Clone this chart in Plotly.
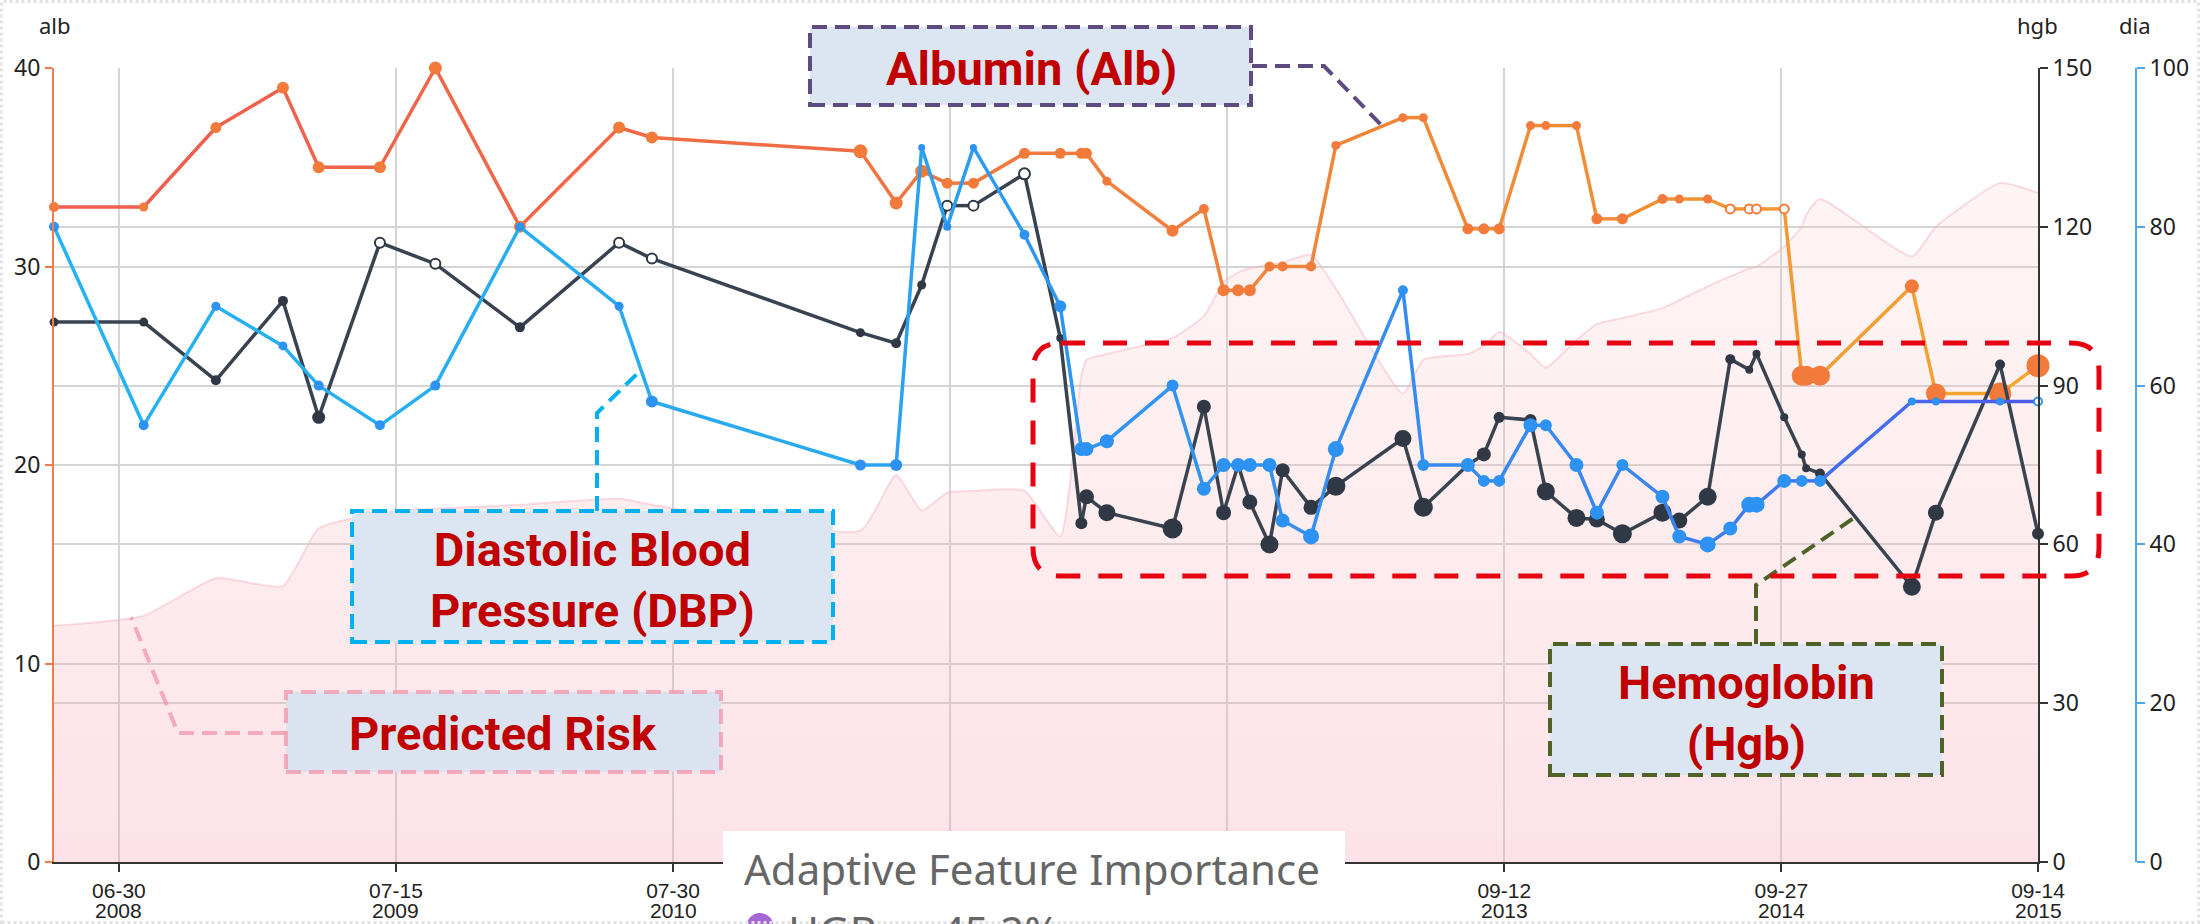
import plotly.graph_objects as go
import pandas as pd

# ---------------- data ----------------
visit_dates = [
    '2008-04-02', '2008-08-03', '2008-11-10', '2009-02-10', '2009-03-31', '2009-06-23', '2009-09-07', '2010-01-01', '2010-05-17', '2010-07-01',
    '2011-04-13', '2011-06-01', '2011-07-06', '2011-08-10', '2011-09-15', '2011-11-24', '2012-01-12', '2012-02-10', '2012-02-17', '2012-03-16',
    '2012-06-14', '2012-07-27', '2012-08-23', '2012-09-12', '2012-09-28', '2012-10-25', '2012-11-12', '2012-12-21', '2013-01-24', '2013-04-26',
    '2013-05-24', '2013-07-24', '2013-08-15', '2013-09-05', '2013-10-18', '2013-11-08', '2013-12-20', '2014-01-17', '2014-02-21', '2014-04-17',
    '2014-05-10', '2014-06-18', '2014-07-19', '2014-08-14', '2014-08-24', '2014-10-01', '2014-10-25', '2014-10-31', '2014-11-19', '2015-03-25',
    '2015-04-27', '2015-07-24', '2015-09-14']

albumin = [33, 33, 37, 39, 35, 35, 40, 32, 37, 36.5,
           35.8, 33.2, 34.8, 34.2, 34.2, 35.7, 35.7, 35.7, 35.7, 34.3,
           31.8, 32.9, 28.8, 28.8, 28.8, 30.0, 30.0, 30.0, 36.1, 37.5,
           37.5, 31.9, 31.9, 31.9, 37.1, 37.1, 37.1, 32.4, 32.4, 33.4,
           33.4, 33.4, 32.9, 32.9, 32.9, 32.9, 24.5, 24.5, 24.5, 29.0,
           23.6, 23.6, 25.0]

hemoglobin = [102, 102, 91, 106, 84, 117, 113, 101, 117, 114,
              100, 98, 109, 124, 124, 130, 99, 64, 69, 66,
              63, 86, 66, 75, 68, 60, 74, 67, 71, 80,
              67, 75, 77, 84, 83.5, 70, 65, 64.7, 62, 66,
              64.5, 69, 95, 93, 96, 84, 77, 74.4, 73.4, 52,
              66, 94, 62]

diastolic = [80, 55, 70, 65, 60, 55, 60, 80, 70, 58,
             50, 50, 90, 80, 90, 79, 70, 52, 52, 53,
             60, 47, 50, 50, 50, 50, 43, 41, 52, 72,
             50, 50, 48, 48, 55, 55, 50, 44, 50, 46,
             41, 40, 42, 45, 45, 48, 48, None, 48, 58,
             58, 58, 58]

predicted_risk = [11.9, 12.4, 14.3, 13.9, 16.8, 17.6, 17.8, 18.0, 18.3, 18.0,
                  16.7, 19.5, 17.7, 18.6, 18.7, 18.7, 16.4, 24.5, 25.3, 25.6,
                  26.4, 27.5, 29.2, 29.7, 29.9, 30.1, 30.2, 30.6, 28.9, 23.6,
                  25.3, 25.6, 26.0, 26.7, 25.6, 24.9, 26.3, 27.1, 27.4, 27.9,
                  28.3, 29.0, 29.5, 29.9, 30.0, 31.0, 32.0, 32.6, 33.4, 30.5,
                  32.0, 34.2, 33.7]

tick_dates = ['2008-06-30', '2009-07-15', '2010-07-30', '2011-08-14', '2012-08-28',
              '2013-09-12', '2014-09-27', '2015-09-14']
# labels of the 2011 / 2012 ticks are hidden behind the feature-importance panel in the original
tick_day_labels = ['06-30', '07-15', '07-30', '', '', '09-12', '09-27', '09-14']
tick_year_labels = ['2008', '2009', '2010', '', '', '2013', '2014', '2015']

# ---------------- styles (marker sizes / hollow flags) ----------------
alb_size = [10, 9, 11, 12, 12, 12, 13, 12, 12, 12,
            14, 13, 13, 11, 11, 11, 11, 11, 11, 9,
            12, 10, 12, 12, 12, 10, 10, 10, 9, 9,
            9, 11, 11, 11, 9, 9, 9, 11, 11, 10,
            9, 9, 9, 9, 9, 9, 20, 20, 20, 14,
            20, 22, 23]
alb_hollow = [i in (42, 43, 44, 45) for i in range(53)]

hgb_size = [9, 9, 10, 10, 13, 10, 10, 10, 10, 10,
            9, 10, 9, 10, 10, 11, 8, 12, 15, 17,
            20, 14, 15, 11, 15, 18, 14, 15, 19, 17,
            19, 10, 14, 11, 12, 18, 18, 16, 19, 18,
            16, 18, 10, 8, 8, 8, 8, 8, 10, 18,
            16, 10, 12]
hgb_hollow = [i in (5, 6, 8, 9, 13, 14, 15) for i in range(53)]

dia_size = [10, 10, 9, 9, 10, 10, 10, 9, 9, 12,
            11, 12, 7, 8, 7, 10, 12, 14, 14, 14,
            12, 14, 14, 14, 14, 14, 14, 16, 16, 10,
            12, 14, 12, 12, 14, 12, 14, 14, 12, 14,
            14, 16, 14, 16, 16, 14, 12, 12, 12, 8,
            8, 8, 8]
dia_hollow = [i == 52 for i in range(53)]

# ---------------- geometry helpers (pixel -> paper) ----------------
W, H = 2200, 924
L, T, PW, PH = 54, 68, 2082, 794


def fx(px):
    return (px - L) / PW


def fy(py):
    return (T + PH - py) / PH


def hex2rgb(h):
    h = h.lstrip('#')
    return tuple(int(h[i:i + 2], 16) for i in (0, 2, 4))


def interp(stops, t):
    for (t0, c0), (t1, c1) in zip(stops[:-1], stops[1:]):
        if t <= t1:
            f = 0 if t1 == t0 else (t - t0) / (t1 - t0)
            a, b = hex2rgb(c0), hex2rgb(c1)
            return 'rgb(%d,%d,%d)' % tuple(round(a[k] + (b[k] - a[k]) * f) for k in range(3))
    return stops[-1][1]


fig = go.Figure()

t_start = pd.Timestamp(visit_dates[0])
t_end = pd.Timestamp(visit_dates[-1])

# predicted risk area
fig.add_trace(go.Scatter(
    x=visit_dates, y=predicted_risk, mode='lines', yaxis='y',
    line=dict(color='rgba(243,178,192,0.45)', width=2, shape='spline', smoothing=0.5),
    fill='tozeroy',
    fillgradient=dict(type='vertical', start=0, stop=35,
                      colorscale=[[0, 'rgba(247,160,180,0.30)'], [1, 'rgba(250,205,200,0.20)']]),
    hoverinfo='skip', showlegend=False))


def add_series(values, yaxis, stops, mcolor, sizes, hollow, lw=3.5):
    pts = [(d, v, s, h) for d, v, s, h in zip(visit_dates, values, sizes, hollow) if v is not None]
    for a, b in zip(pts[:-1], pts[1:]):
        tm = ((pd.Timestamp(a[0]) - t_start) + (pd.Timestamp(b[0]) - t_start)) / 2 / (t_end - t_start)
        fig.add_trace(go.Scatter(
            x=[a[0], b[0]], y=[a[1], b[1]], mode='lines', yaxis=yaxis,
            line=dict(color=interp(stops, tm), width=lw),
            hoverinfo='skip', showlegend=False, cliponaxis=False))
    fig.add_trace(go.Scatter(
        x=[p[0] for p in pts], y=[p[1] for p in pts], mode='markers', yaxis=yaxis,
        marker=dict(size=[p[2] for p in pts],
                    color=['white' if p[3] else mcolor for p in pts],
                    line=dict(color=mcolor, width=[2 if p[3] else 0 for p in pts]),
                    opacity=1),
        hoverinfo='skip', showlegend=False, cliponaxis=False))


add_series(albumin, 'y',
           [(0.0, '#ee5c50'), (0.35, '#f06c44'), (0.55, '#f0803c'), (0.8, '#f09034'), (1.0, '#f2a830')],
           '#f27a3a', alb_size, alb_hollow)
add_series(hemoglobin, 'y2', [(0.0, '#39424f'), (1.0, '#39424f')],
           '#2f3844', hgb_size, hgb_hollow)
add_series(diastolic, 'y3',
           [(0.0, '#25b3f2'), (0.38, '#29a9f0'), (0.5, '#2f97f0'), (0.8, '#3a84f0'), (1.0, '#4c5aec')],
           '#2e92f2', dia_size, dia_hollow)

tick_font = dict(family='Noto Sans', size=23, color='#222')
xtick_font = dict(family='Liberation Sans', size=21, color='#222')

fig.update_layout(
    template='none',
    width=W, height=H,
    margin=dict(l=L, r=W - L - PW, t=T, b=H - T - PH, pad=0),
    paper_bgcolor='white', plot_bgcolor='white',
    font=dict(family='Noto Sans', color='#222'),
    showlegend=False,
    xaxis=dict(type='date', domain=[0, fx(2038)], range=[visit_dates[0], visit_dates[-1]],
               tickvals=tick_dates, ticktext=tick_day_labels, automargin=False,
               tickfont=xtick_font, ticklabelstandoff=1,
               showgrid=True, gridcolor='#d4d4d4', gridwidth=2,
               showline=True, linecolor='#333', linewidth=2,
               ticks='outside', ticklen=8, tickwidth=2, tickcolor='#333', zeroline=False),
    yaxis=dict(range=[0, 40], tickvals=[0, 10, 20, 30, 40], tickfont=tick_font, automargin=False,
               showgrid=True, gridcolor='#d4d4d4', gridwidth=2,
               showline=True, linecolor='#f07c4c', linewidth=2,
               ticks='outside', ticklen=7, tickwidth=2, tickcolor='#f07c4c', zeroline=False),
    yaxis2=dict(range=[0, 150], tickvals=[0, 30, 60, 90, 120, 150], tickfont=tick_font, automargin=False,
                overlaying='y', side='right', anchor='x',
                showgrid=True, gridcolor='#d4d4d4', gridwidth=2,
                showline=True, linecolor='#333', linewidth=2,
                ticks='outside', ticklen=8, tickwidth=2, tickcolor='#333', zeroline=False),
    yaxis3=dict(range=[0, 100], tickvals=[0, 20, 40, 60, 80, 100], tickfont=tick_font, automargin=False,
                overlaying='y', side='right', anchor='free', position=1.0,
                showgrid=False, showline=True, linecolor='#4ea6e6', linewidth=2,
                ticks='outside', ticklen=8, tickwidth=2, tickcolor='#4ea6e6', zeroline=False),
)

shapes = []
annots = []


def P(pts):
    return 'M ' + ' L '.join('%f,%f' % (fx(x), fy(y)) for x, y in pts)


def box(x0, y0, x1, y1, color, dash='15px,8px', fill='#dce6f2', width=4):
    shapes.append(dict(type='rect', xref='paper', yref='paper', layer='above',
                       x0=fx(x0), x1=fx(x1), y0=fy(y1), y1=fy(y0),
                       fillcolor=fill, line=dict(color=color, width=width, dash=dash)))


def leader(pts, color, dash='15px,8px', width=4):
    shapes.append(dict(type='path', xref='paper', yref='paper', layer='above', path=P(pts),
                       line=dict(color=color, width=width, dash=dash)))


def label(text, cx, cy, size=47):
    annots.append(dict(xref='paper', yref='paper', x=fx(cx), y=fy(cy), text='<b>' + text + '</b>',
                       showarrow=False, xanchor='center', yanchor='middle',
                       font=dict(family='Roboto', size=size, color='#c00000')))


# year line of the x tick labels
for d, yr in zip(tick_dates, tick_year_labels):
    if yr:
        annots.append(dict(xref='x', yref='paper', x=d, y=fy(910.5), text=yr, showarrow=False,
                           xanchor='center', yanchor='middle', font=xtick_font))

# Albumin callout
leader([(1252, 66), (1324, 66), (1383, 127)], '#5f4b7f')
box(810, 27, 1251, 105, '#5f4b7f')
label('Albumin (Alb)', 1031, 68)

# DBP callout
leader([(597, 511), (597, 413), (641, 370)], '#00b0f0')
box(352, 511, 833, 642, '#00b0f0')
label('Diastolic Blood<br>Pressure (DBP)', 592, 580)

# Predicted risk callout
leader([(286, 733), (178, 733), (131, 617)], 'rgba(240,150,170,0.75)')
box(286, 692, 721, 772, 'rgba(240,150,170,0.75)', fill='#dce3f0')
label('Predicted Risk', 503, 733)

# Hemoglobin callout
leader([(1756, 644), (1756, 585), (1854, 518)], '#4f6228')
box(1550, 644, 1942, 775, '#4f6228')
label('Hemoglobin<br>(Hgb)', 1746, 713)

# red rounded dashed rectangle
x0, y0, x1, y1, r = 1033, 343, 2099, 576, 28
rr = ('M {a},{b} L {c},{b} Q {x1},{b} {x1},{d} L {x1},{e} Q {x1},{f} {c},{f} '
      'L {a},{f} Q {x0},{f} {x0},{e} L {x0},{d} Q {x0},{b} {a},{b} Z').format(
    a=fx(x0 + r), b=fy(y0), c=fx(x1 - r), d=fy(y0 + r), e=fy(y1 - r), f=fy(y1), x0=fx(x0), x1=fx(x1))
shapes.append(dict(type='path', xref='paper', yref='paper', layer='above', path=rr,
                   line=dict(color='#e60012', width=5, dash='24px,18px')))

# feature importance panel
shapes.append(dict(type='rect', xref='paper', yref='paper', layer='above',
                   x0=fx(723), x1=fx(1345), y0=fy(935), y1=fy(831),
                   fillcolor='white', line=dict(width=0)))
shapes.append(dict(type='circle', xref='paper', yref='paper', layer='above',
                   x0=fx(746), x1=fx(774), y0=fy(942), y1=fy(913),
                   fillcolor='#a566d6', line=dict(width=0)))
annots.append(dict(xref='paper', yref='paper', x=fx(742), y=fy(868), xanchor='left', yanchor='middle',
                   text='Adaptive Feature Importance', showarrow=False,
                   font=dict(family='Noto Sans', size=42, color='#666')))
annots.append(dict(xref='paper', yref='paper', x=fx(786), y=fy(930), xanchor='left', yanchor='middle',
                   text='HGB：  45.2%', showarrow=False,
                   font=dict(family='Noto Sans', size=42, color='#666')))

# axis titles
for t, cx in (('alb', 55), ('hgb', 2037), ('dia', 2135)):
    annots.append(dict(xref='paper', yref='paper', x=fx(cx), y=fy(25), text=t, showarrow=False,
                       xanchor='center', yanchor='middle',
                       font=dict(family='Noto Sans', size=22, color='#222')))

# faint outer frame
shapes.append(dict(type='rect', xref='paper', yref='paper', layer='above',
                   x0=fx(1.5), x1=fx(2198.5), y0=fy(922.5), y1=fy(1.5),
                   line=dict(color='#e2e2e2', width=3, dash='dot')))

fig.update_layout(shapes=shapes, annotations=annots)

fig.write_html("out.html", config={'displayModeBar': False},
               post_script="document.body.style.margin='0';document.body.style.overflow='hidden';")
